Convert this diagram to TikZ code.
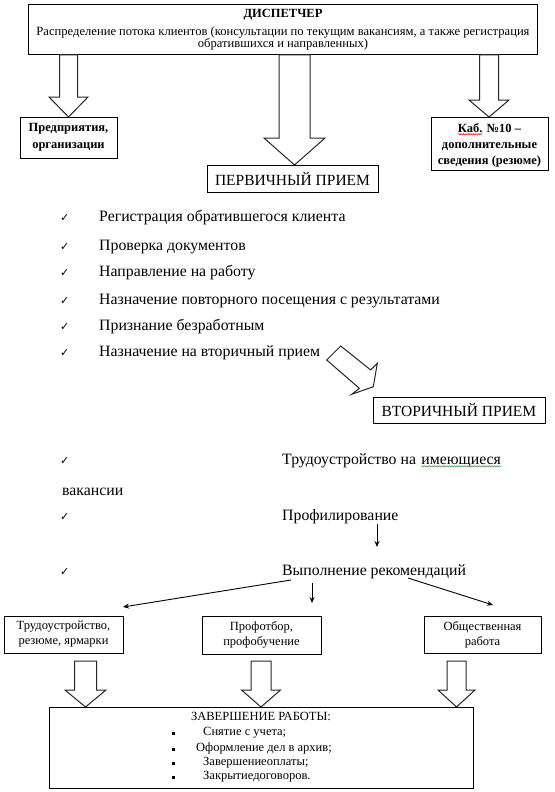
\documentclass[tikz,border=0pt]{standalone}
\usepackage{fontspec}
\setmainfont{Liberation Serif}
\newfontfamily\symfont{DejaVu Sans}
\usetikzlibrary{arrows.meta,calc,decorations.pathmorphing}
\definecolor{spellgreen}{rgb}{0.25,0.6,0.25}
\newcommand{\blockarr}[6]{%
  \draw[hollow] ({#1-#5},#2) -- ({#1-#5},#3) -- ({#1-#6},#3) -- (#1,#4) --
    ({#1+#6},#3) -- ({#1+#5},#3) -- ({#1+#5},#2) -- cycle;}
\tikzset{
  box/.style={draw=black, line width=1pt, inner sep=0pt, align=center},
  hollow/.style={draw=black!85, line width=1pt, fill=white, line join=miter},
  conn/.style={draw=black, line width=0.9pt, -{Stealth[length=6pt,width=5pt]}},
  txt/.style={inner sep=0pt, anchor=mid west},
  ctxt/.style={inner sep=0pt, anchor=mid},
  chk/.style={inner sep=0pt, anchor=mid west, font=\symfont\fontsize{11}{11}\selectfont},
  listfont/.style={font=\fontsize{15.8}{16}\selectfont},
  smallfont/.style={font=\fontsize{12.5}{15}\selectfont},
  boldfont/.style={font=\bfseries\fontsize{12.5}{15}\selectfont},
  bul/.style={inner sep=0pt, anchor=mid},
  wave/.style={line width=0.5pt, decorate, decoration={snake, amplitude=0.7pt, segment length=2.5pt}},
}
\begin{document}
\begin{tikzpicture}[x=1pt,y=-1pt]
\useasboundingbox[fill=white] (0,0) rectangle (554,792);

% ---- dispatcher
\node[box, minimum width=509pt, minimum height=50pt] (disp) at (282.5,30) {};
\node[ctxt, font=\bfseries\fontsize{12.5}{12.5}\selectfont] (dispt) at (283,15) {ДИСПЕТЧЕР};
\node[inner sep=0pt, anchor=center, align=center, font=\fontsize{12.6}{11}\selectfont] (dispd) at (283,38.5)
  {Распределение потока клиентов (консультации по текущим вакансиям, а также регистрация\\обратившихся и направленных)};

% ---- block arrows from dispatcher
\blockarr{68.5}{55}{97}{117}{9}{19.5}
\blockarr{294.5}{55}{138}{165}{15.5}{30.5}
\blockarr{489}{55}{100}{117}{9.5}{20}

\node[box, minimum width=97pt, minimum height=41pt, font=\bfseries\fontsize{12.5}{17}\selectfont] (ent) at (68.5,137.5) {Предприятия,\\организации};
\node[box, minimum width=117pt, minimum height=53pt] (cab) at (489.5,143.5) {};
\node[ctxt, boldfont] (cab1) at (489.5,130) {Каб. №10 –};
\node[ctxt, boldfont] (cab2) at (489.5,146) {дополнительные};
\node[ctxt, boldfont] (cab3) at (489.5,162) {сведения (резюме)};
\draw[wave, red] ([yshift=-2pt]cab1.base west) -- ($([yshift=-2pt]cab1.base west)!0.38!([yshift=-2pt]cab1.base east)$);
\node[box, minimum width=171pt, minimum height=27pt, font=\fontsize{15.5}{15.5}\selectfont] (prim) at (292.5,178.5) {ПЕРВИЧНЫЙ ПРИЕМ};

% ---- primary list
\node[chk] (c1) at (60,219) {✓};
\node[txt, listfont] (l1) at (99,219) {Регистрация обратившегося клиента};
\node[chk] (c2) at (60,248) {✓};
\node[txt, listfont] (l2) at (99,248) {Проверка документов};
\node[chk] (c3) at (60,274) {✓};
\node[txt, listfont] (l3) at (99,274) {Направление на работу};
\node[chk] (c4) at (60,302) {✓};
\node[txt, listfont] (l4) at (99,302) {Назначение повторного посещения с результатами};
\node[chk] (c5) at (60,328) {✓};
\node[txt, listfont] (l5) at (99,328) {Признание безработным};
\node[chk] (c6) at (60,354) {✓};
\node[txt, listfont] (l6) at (99,354) {Назначение на вторичный прием};

% ---- diagonal block arrow
\draw[hollow] (326.7,360) -- (340.7,346) -- (370.7,370) -- (377.3,363.3) -- (373.3,386.7) -- (351.7,394.3) -- (359.3,388.3) -- cycle;

\node[box, minimum width=172pt, minimum height=26pt, font=\fontsize{15.5}{15.5}\selectfont] (sec) at (459,410) {ВТОРИЧНЫЙ ПРИЕМ};

% ---- secondary list
\node[chk] (d1) at (60,462) {✓};
\node[txt, listfont] (m1) at (282,462) {Трудоустройство на};
\node[inner sep=0pt, anchor=base west, listfont] (m1w) at ([xshift=5pt]m1.base east) {имеющиеся};
\draw[wave, spellgreen] ([yshift=-2pt]m1w.base west) -- ([yshift=-2pt]m1w.base east);
\node[txt, listfont] (m1b) at (62,493) {вакансии};
\node[chk] (d2) at (60,518) {✓};
\node[txt, listfont] (m2) at (282,518) {Профилирование};
\node[chk] (d3) at (60,573) {✓};
\node[txt, listfont] (m3) at (282,573) {Выполнение рекомендаций};

\coordinate (pa) at (377,524);
\coordinate (pb) at (377,547);
\draw[conn] (pa) -- (pb);

\coordinate (fl) at (291,580);
\coordinate (flt) at (123,607);
\coordinate (fm) at (312,583);
\coordinate (fmt) at (312,603);
\coordinate (fr) at (408,578);
\coordinate (frt) at (493,605);
\draw[conn] (fl) -- (flt);
\draw[conn] (fm) -- (fmt);
\draw[conn] (fr) -- (frt);

% ---- result boxes
\node[box, minimum width=119pt, minimum height=37pt, smallfont] (emp) at (63.5,634.5) {Трудоустройство,\\резюме, ярмарки};
\node[box, minimum width=119pt, minimum height=38pt, smallfont] (prof) at (261.5,635) {Профотбор,\\профобучение};
\node[box, minimum width=117pt, minimum height=37pt, smallfont] (pub) at (482.5,634.5) {Общественная\\работа};

\blockarr{85.5}{661}{690}{707}{11}{20.5}
\blockarr{261}{661}{690}{707}{10}{19.5}
\blockarr{456.5}{661}{690}{707}{9.5}{18.5}

% ---- final box
\node[box, minimum width=424pt, minimum height=81pt] (fin) at (261,747.5) {};
\node[ctxt, smallfont] (fint) at (261,718) {ЗАВЕРШЕНИЕ РАБОТЫ:};
\node[bul] (b1) at (173,733) {\rule{3pt}{3.5pt}};
\node[txt, smallfont] (i1) at (203,733) {Снятие с учета;};
\node[bul] (b2) at (173,749) {\rule{3pt}{3.5pt}};
\node[txt, smallfont] (i2) at (196,749) {Оформление дел в архив;};
\node[bul] (b3) at (173,763) {\rule{3pt}{3.5pt}};
\node[txt, smallfont] (i3) at (203,763) {Завершениеоплаты;};
\node[bul] (b4) at (173,777) {\rule{3pt}{3.5pt}};
\node[txt, smallfont] (i4) at (203,777) {Закрытиедоговоров.};
\end{tikzpicture}
\end{document}
